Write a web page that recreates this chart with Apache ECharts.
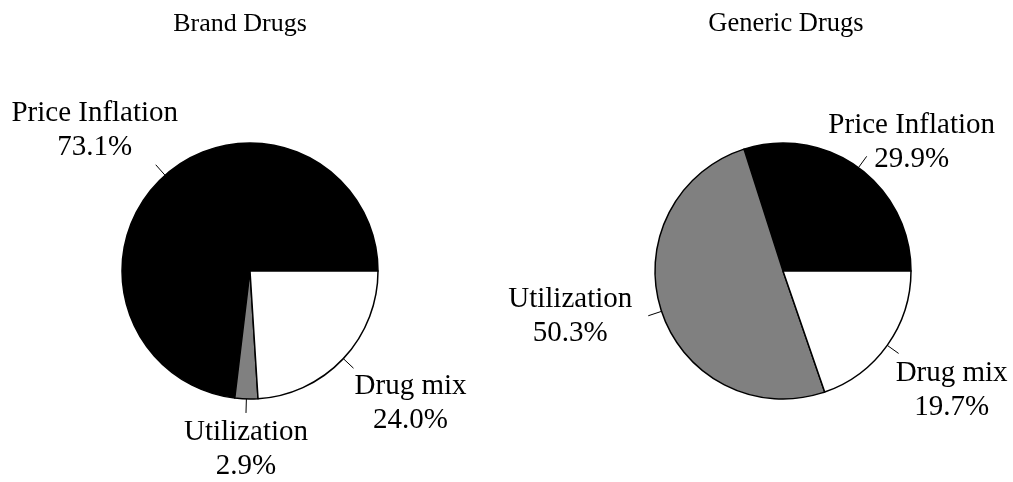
<!DOCTYPE html>
<html>
<head>
<meta charset="utf-8">
<script src="https://cdn.jsdelivr.net/npm/echarts@6/dist/echarts.min.js"></script>
<style>
html,body{margin:0;padding:0;background:#fff;}
#chart{width:1013px;height:482px;}
</style>
</head>
<body>
<div id="chart"></div>
<script>
const categories = ['Price Inflation', 'Utilization', 'Drug mix'];
const brandValues = [73.1, 2.9, 24.0];
const genericValues = [29.9, 50.3, 19.7];
const pieTitles = ['Brand Drugs', 'Generic Drugs'];
const sliceColors = ['#000000', '#808080', '#ffffff'];

const FONT = "'Liberation Serif', 'Times New Roman', serif";

// label block offsets from the end of each leader line (layout only)
const labelOffsets = [
  [[-61, -34], [0, 36], [57, 35]],
  [[45, -14], [-78, 1], [53, 37]]
];

function makeData(values) {
  return categories.map((name, i) => ({
    name: name,
    value: values[i],
    itemStyle: { color: sliceColors[i] }
  }));
}

function makeSeries(values, center) {
  return {
    type: 'pie',
    center: center,
    radius: 128,
    startAngle: 0,
    clockwise: false,
    avoidLabelOverlap: false,
    silent: true,
    animation: false,
    itemStyle: { borderColor: '#000', borderWidth: 1.5 },
    label: {
      show: true,
      position: 'outside',
      fontFamily: FONT,
      fontSize: 29,
      lineHeight: 34,
      color: '#000',
      formatter: p => p.name + '\n' + p.value.toFixed(1) + '%'
    },
    labelLine: {
      show: true,
      length: 14,
      length2: 0,
      smooth: false,
      lineStyle: { color: '#000', width: 1 }
    },
    labelLayout: function (params) {
      const pts = params.labelLinePoints;
      const end = pts[1];
      const off = labelOffsets[params.seriesIndex][params.dataIndex];
      return {
        x: end[0] + off[0],
        y: end[1] + off[1],
        align: 'center',
        verticalAlign: 'middle',
        labelLinePoints: [pts[0], pts[1]]
      };
    },
    emphasis: { disabled: true },
    data: makeData(values)
  };
}

const chart = echarts.init(document.getElementById('chart'), null, { renderer: 'canvas' });
chart.setOption({
  backgroundColor: '#fff',
  animation: false,
  title: [
    { text: pieTitles[0], left: 235, top: 6, textAlign: 'center',
      textStyle: { fontFamily: FONT, fontSize: 26, fontWeight: 'normal', color: '#000' } },
    { text: pieTitles[1], left: 781, top: 6, textAlign: 'center',
      textStyle: { fontFamily: FONT, fontSize: 26.5, fontWeight: 'normal', color: '#000' } }
  ],
  series: [
    makeSeries(brandValues, [250, 271]),
    makeSeries(genericValues, [783, 271])
  ]
});
</script>
</body>
</html>
